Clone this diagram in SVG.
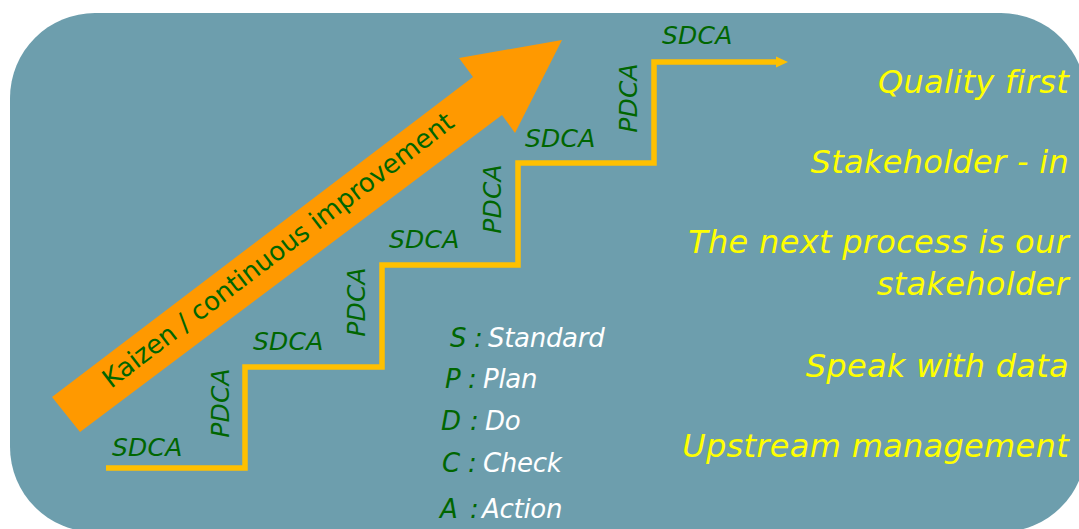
<svg xmlns="http://www.w3.org/2000/svg" width="1079" height="529" viewBox="0 0 1079 529">
<style>
  .g { fill: #006600; font-family: "DejaVu Sans", Verdana, sans-serif; font-style: italic; font-size: 25px; letter-spacing: 0.2px; }
  .leg { font-family: "DejaVu Sans", Verdana, sans-serif; font-style: italic; font-size: 26px; letter-spacing: -0.3px; }
  .lg { fill: #006600; }
  .lw { fill: #FFFFFF; }
  .y { fill: #FFFF00; font-family: "DejaVu Sans", Verdana, sans-serif; font-style: italic; font-size: 32px; letter-spacing: 0.3px; text-anchor: end; }
  .stair { fill: none; stroke: #FFC000; stroke-width: 5.5; }
</style>
<defs>
  <marker id="ah" markerUnits="userSpaceOnUse" markerWidth="14" markerHeight="14" refX="2" refY="7" orient="auto" viewBox="0 0 14 14">
    <polygon points="0,1.5 12,7 0,12.5" fill="#FFC000"/>
  </marker>
</defs>
<g id="background">
  <rect x="10" y="13" width="1076" height="519" rx="85" ry="85" fill="#6D9EAD"/>
</g>
<g id="kaizen-arrow">
  <polygon points="52,397 473,77 459,58 562,40 515,133 502,115 80,432" fill="#FF9900"/>
  <text transform="translate(111,389) rotate(-37.4)" fill="#006600" font-family="DejaVu Sans, Verdana, sans-serif" font-size="26" textLength="434" lengthAdjust="spacing">Kaizen / continuous improvement</text>
</g>
<g id="connectors">
  <path class="stair" d="M106,468 H245 V367 H382 V265 H518 V163 H654 V62 H778" marker-end="url(#ah)"/>
</g>
<g id="sdca-labels">
  <text class="g" x="112" y="456">SDCA</text>
  <text class="g" x="253" y="350">SDCA</text>
  <text class="g" x="389" y="248">SDCA</text>
  <text class="g" x="525" y="147">SDCA</text>
  <text class="g" x="662" y="44">SDCA</text>
</g>
<g id="pdca-labels">
  <text class="g" text-anchor="middle" transform="translate(229,403) rotate(-90)">PDCA</text>
  <text class="g" text-anchor="middle" transform="translate(365,302) rotate(-90)">PDCA</text>
  <text class="g" text-anchor="middle" transform="translate(501,199) rotate(-90)">PDCA</text>
  <text class="g" text-anchor="middle" transform="translate(637,98) rotate(-90)">PDCA</text>
</g>
<g id="legend" class="leg">
  <text y="347"><tspan class="lg" x="450">S</tspan><tspan class="lg" x="474">:</tspan><tspan class="lw" x="488">Standard</tspan></text>
  <text y="388"><tspan class="lg" x="445">P</tspan><tspan class="lg" x="468">:</tspan><tspan class="lw" x="483">Plan</tspan></text>
  <text y="430"><tspan class="lg" x="441">D</tspan><tspan class="lg" x="470">:</tspan><tspan class="lw" x="485">Do</tspan></text>
  <text y="472"><tspan class="lg" x="442">C</tspan><tspan class="lg" x="468">:</tspan><tspan class="lw" x="483">Check</tspan></text>
  <text y="518"><tspan class="lg" x="440">A</tspan><tspan class="lg" x="470">:</tspan><tspan class="lw" x="482">Action</tspan></text>
</g>
<g id="principles">
  <text class="y" x="1069" y="93">Quality first</text>
  <text class="y" x="1069" y="173">Stakeholder - in</text>
  <text class="y" x="1069" y="253">The next process is our</text>
  <text class="y" x="1069" y="295">stakeholder</text>
  <text class="y" x="1069" y="377">Speak with data</text>
  <text class="y" x="1069" y="457">Upstream management</text>
</g>
</svg>
